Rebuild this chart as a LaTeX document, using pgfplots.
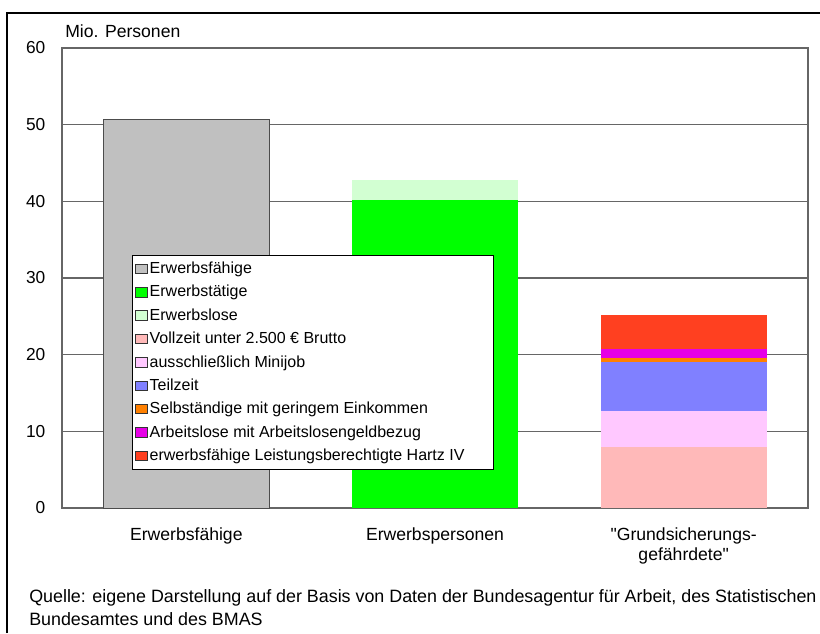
\documentclass[border=0pt]{standalone}
\usepackage{pgfplots}
\pgfplotsset{compat=1.18}
\usepackage{fontspec}
\setmainfont{Liberation Sans}
\definecolor{cGrey}{RGB}{192,192,192}
\definecolor{cGreen}{RGB}{0,255,0}
\definecolor{cLGreen}{RGB}{210,255,210}
\definecolor{cVoll}{RGB}{255,185,185}
\definecolor{cMini}{RGB}{255,200,255}
\definecolor{cTeil}{RGB}{128,128,255}
\definecolor{cSelb}{RGB}{255,128,0}
\definecolor{cALG}{RGB}{230,0,230}
\definecolor{cHartz}{RGB}{255,64,32}
\pgfplotsset{
  leg/.style={legend image code/.code={\draw[#1,draw=black!80,line width=0.6pt] (0pt,-3.6pt) rectangle (9pt,3.6pt);}}
}
\begin{document}
\begin{tikzpicture}
\path[use as bounding box] (0pt,0pt) rectangle (615pt,474.75pt);
\draw[black, line width=0.8pt] (5.25pt,0pt) -- (5.25pt,465pt) -- (615pt,465pt);
\begin{axis}[
  at={(46.5pt,93.75pt)}, anchor=south west,
  scale only axis, width=559.5pt, height=345pt,
  ybar stacked, bar width=0.667,
  xmin=-0.5, xmax=2.5, ymin=0, ymax=60,
  ytick={0,10,...,60},
  xtick={0,1,2},
  xticklabels={Erwerbsfähige, Erwerbspersonen, {\textquotedbl Grundsicherungs-\\gefährdete\textquotedbl}},
  xticklabel style={align=center, font=\fontsize{13.2}{15}\selectfont, yshift=-11pt},
  yticklabel style={font=\fontsize{13}{15}\selectfont, xshift=-9pt},
  /pgf/number format/assume math mode=true,
  major tick length=0pt,
  ymajorgrids,
  major grid style={black!60, line width=0.8pt},
  axis line style={black!60, line width=0.8pt},
  axis on top=false,
  legend cell align=left,
  legend style={at={(0.0938,0.55)}, anchor=north west, draw=black, fill=white,
    font=\fontsize{12}{13}\selectfont, row sep=3.35pt, inner xsep=2pt, inner ysep=3pt,
    nodes={inner xsep=1.5pt}},
  clip=false,
]
\addplot[fill=cGrey, draw=black!70, line width=0.6pt, leg] coordinates {(0,50.7) (1,0) (2,0)};
\addlegendentry{Erwerbsfähige}
\addplot[fill=cGreen, draw=none, leg] coordinates {(0,0) (1,40.2) (2,0)};
\addlegendentry{Erwerbstätige}
\addplot[fill=cLGreen, draw=none, leg] coordinates {(0,0) (1,2.6) (2,0)};
\addlegendentry{Erwerbslose}
\addplot[fill=cVoll, draw=none, leg] coordinates {(0,0) (1,0) (2,7.9)};
\addlegendentry{Vollzeit unter 2.500 € Brutto}
\addplot[fill=cMini, draw=none, leg] coordinates {(0,0) (1,0) (2,4.8)};
\addlegendentry{ausschließlich Minijob}
\addplot[fill=cTeil, draw=none, leg] coordinates {(0,0) (1,0) (2,6.3)};
\addlegendentry{Teilzeit}
\addplot[fill=cSelb, draw=none, leg] coordinates {(0,0) (1,0) (2,0.6)};
\addlegendentry{Selbständige mit geringem Einkommen}
\addplot[fill=cALG, draw=none, leg] coordinates {(0,0) (1,0) (2,1.1)};
\addlegendentry{Arbeitslose mit Arbeitslosengeldbezug}
\addplot[fill=cHartz, draw=none, leg] coordinates {(0,0) (1,0) (2,4.5)};
\addlegendentry{erwerbsfähige Leistungsberechtigte Hartz IV\hspace*{18pt}}
\end{axis}
\node[anchor=west, font=\fontsize{13.2}{15}\selectfont, inner sep=0pt] at (48.75pt,451.5pt) {Mio. Personen};
\node[anchor=north west, align=left, font=\fontsize{13.4}{17.5}\selectfont, inner sep=0pt] at (21.75pt,33pt)
  {Quelle: eigene Darstellung auf der Basis von Daten der Bundesagentur für Arbeit, des Statistischen\\Bundesamtes und des BMAS};
\end{tikzpicture}
\end{document}
